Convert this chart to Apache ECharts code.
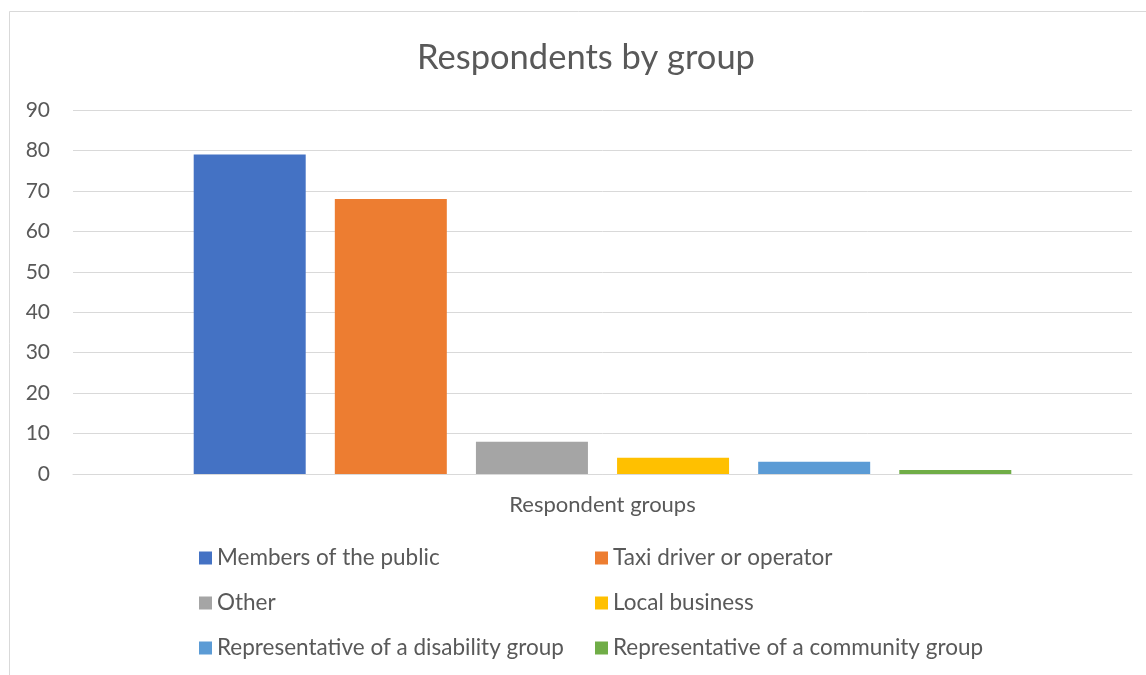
<!DOCTYPE html>
<html>
<head>
<meta charset="utf-8">
<script src="https://cdn.jsdelivr.net/npm/echarts@6/dist/echarts.min.js"></script>
<style>
  html, body { margin: 0; padding: 0; background: #ffffff; }
  #chart { width: 1146px; height: 675px; }
</style>
</head>
<body>
<div id="chart"></div>
<script>
// Respondent counts by group (single category, one series per group)
const category = ['Respondent groups'];
const groups = [
  'Members of the public',
  'Taxi driver or operator',
  'Other',
  'Local business',
  'Representative of a disability group',
  'Representative of a community group'
];
const counts = [79, 68, 8, 4, 3, 1];
const colors = ['#4472C4', '#ED7D31', '#A5A5A5', '#FFC000', '#5B9BD5', '#70AD47'];
const yTicks = { min: 0, max: 90, interval: 10 };

const FONT = 'Lato, "Open Sans", sans-serif';
const TEXT = '#595959';

const series = groups.map((name, i) => ({
  name: name,
  type: 'bar',
  data: [counts[i]],
  barWidth: 112,
  barGap: '26%',
  itemStyle: { color: colors[i] }
}));

const legendText = { color: TEXT, fontSize: 22.5, fontFamily: FONT, lineHeight: 24 };

const chart = echarts.init(document.getElementById('chart'), null, { renderer: 'canvas' });
chart.setOption({
  backgroundColor: '#ffffff',
  animation: false,
  title: {
    text: 'Respondents by group',
    left: 581,
    textAlign: 'center',
    top: 35,
    textStyle: { color: TEXT, fontSize: 34.5, fontWeight: 'normal', fontFamily: FONT }
  },
  graphic: [{
    type: 'rect',
    shape: { x: 9.5, y: 11.5, width: 1200, height: 700 },
    style: { fill: 'none', stroke: '#d9d9d9', lineWidth: 1 },
    silent: true
  }],
  legend: [
    {
      data: [groups[0], groups[2], groups[4]],
      orient: 'vertical',
      left: 194, top: 541,
      itemWidth: 13, itemHeight: 13, itemGap: 21,
      icon: 'rect',
      textStyle: legendText
    },
    {
      data: [groups[1], groups[3], groups[5]],
      orient: 'vertical',
      left: 590, top: 541,
      itemWidth: 13, itemHeight: 13, itemGap: 21,
      icon: 'rect',
      textStyle: legendText
    }
  ],
  grid: { left: 73, right: 14, top: 110, bottom: 201, containLabel: false },
  xAxis: {
    type: 'category',
    data: category,
    axisTick: { show: false },
    axisLine: { show: true, lineStyle: { color: '#d9d9d9', width: 1 } },
    axisLabel: { color: TEXT, fontSize: 22, fontFamily: FONT, margin: 20 }
  },
  yAxis: {
    type: 'value',
    min: yTicks.min, max: yTicks.max, interval: yTicks.interval,
    axisLine: { show: false },
    axisTick: { show: false },
    splitLine: { lineStyle: { color: '#d9d9d9', width: 1 } },
    axisLabel: { color: TEXT, fontSize: 21, fontFamily: FONT, margin: 23 }
  },
  series: series
});
</script>
</body>
</html>
